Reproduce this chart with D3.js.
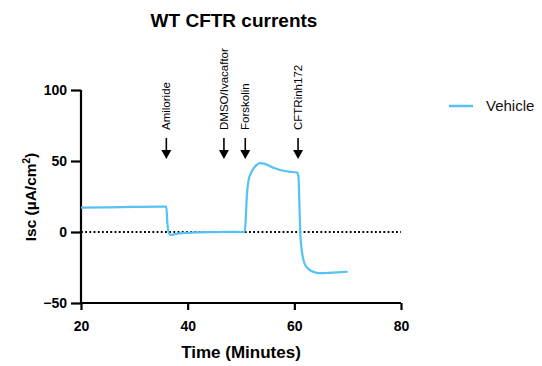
<!DOCTYPE html>
<html><head><meta charset="utf-8">
<script src="https://cdn.jsdelivr.net/npm/d3@7"></script>
<style>body{margin:0;background:#fff;} text{font-family:Arial,"Liberation Sans",sans-serif;}</style>
</head><body>
<svg id="c" width="542" height="366"></svg>
<script>
const time = [20,25,30,35,36.0,36.2,36.5,36.8,37.5,38.5,40,42,44,46,48,50,50.7,50.9,51.1,51.4,51.8,52.4,53.0,53.6,54.3,55.2,56.2,57.5,59,60.5,60.75,60.95,61.1,61.3,61.6,62.0,62.5,63.2,64,65,66.5,68,70];
const vehicle = [17.2,17.4,17.7,17.9,17.9,6,-1.0,-2.1,-1.6,-1.0,-0.6,-0.3,-0.1,0,0.1,0,0,10,26,36,41,45,47.5,48.5,48.2,46.8,45,43.5,42.5,41.8,40,20,0,-10,-18,-23,-25.5,-27.5,-28.6,-29,-28.8,-28.5,-28];
const events = [{t:36.0,label:"Amiloride"},{t:46.8,label:"DMSO/Ivacaftor"},{t:50.8,label:"Forskolin"},{t:60.7,label:"CFTRinh172"}];
const xTicks = [20,40,60,80];
const yTicks = [-50,0,50,100];
const seriesName = "Vehicle";
const color = "#55c1f5";

const svg = d3.select("#c");
const x = d3.scaleLinear().domain([20,80]).range([81,401]);
const y = d3.scaleLinear().domain([-50,100]).range([303,90]);

svg.append("text").attr("x",234).attr("y",27).attr("text-anchor","middle")
  .attr("font-size",19).attr("font-weight","bold").text("WT CFTR currents");

// axes
const xa = svg.append("g").attr("transform","translate(0,303)")
  .call(d3.axisBottom(x).tickValues(xTicks).tickSize(7).tickPadding(11));
const ya = svg.append("g").attr("transform","translate(81,0)")
  .call(d3.axisLeft(y).tickValues(yTicks).tickSize(10).tickPadding(4));
[xa,ya].forEach(a=>{
  a.select(".domain").attr("stroke","#000").attr("stroke-width",2.2);
  a.selectAll(".tick line").attr("stroke","#000").attr("stroke-width",2.2);
  a.selectAll(".tick text").attr("font-size",14).attr("font-weight","bold").attr("fill","#000")
   .attr("font-family","Arial,'Liberation Sans',sans-serif");
});
xa.select(".domain").attr("d","M81,0H401");
ya.select(".domain").attr("d","M0,90V304");

// zero dotted line
svg.append("line").attr("x1",x(20)).attr("x2",x(80)).attr("y1",y(0)).attr("y2",y(0))
  .attr("stroke","#000").attr("stroke-width",1.8).attr("stroke-dasharray","1.8,2.4");

// series
const pts = time.map((t,i)=>[t,vehicle[i]]);
svg.append("path").datum(pts).attr("fill","none").attr("stroke",color).attr("stroke-width",2.2)
  .attr("stroke-linejoin","round")
  .attr("d",d3.line().x(d=>x(d[0])).y(d=>y(d[1])).curve(d3.curveMonotoneX));

// events
const ev = svg.selectAll(".ev").data(events).join("g").attr("class","ev");
ev.append("line").attr("x1",d=>x(d.t)).attr("x2",d=>x(d.t)).attr("y1",138).attr("y2",152)
  .attr("stroke","#000").attr("stroke-width",1.6);
ev.append("path").attr("d",d=>`M${x(d.t)-5},150L${x(d.t)+5},150L${x(d.t)},159Z`).attr("fill","#000");
ev.append("text").attr("transform",d=>`translate(${x(d.t)+4},130) rotate(-90)`)
  .attr("font-size",11.5).attr("fill","#000").text(d=>d.label);

// y label
const yl = svg.append("text").attr("transform","translate(36,197) rotate(-90)")
  .attr("text-anchor","middle").attr("font-size",15.5).attr("font-weight","bold");
yl.append("tspan").text("Isc (\u00B5A/cm");
yl.append("tspan").attr("font-size",10).attr("dy",-6).text("2");
yl.append("tspan").attr("dy",6).text(")");

svg.append("text").attr("x",241).attr("y",358).attr("text-anchor","middle")
  .attr("font-size",17).attr("font-weight","bold").text("Time (Minutes)");

// legend
svg.append("line").attr("x1",449).attr("x2",473).attr("y1",106).attr("y2",106)
  .attr("stroke",color).attr("stroke-width",2.5);
svg.append("text").attr("x",486).attr("y",111).attr("font-size",15).attr("fill","#111").text(seriesName);
</script>
</body></html>
